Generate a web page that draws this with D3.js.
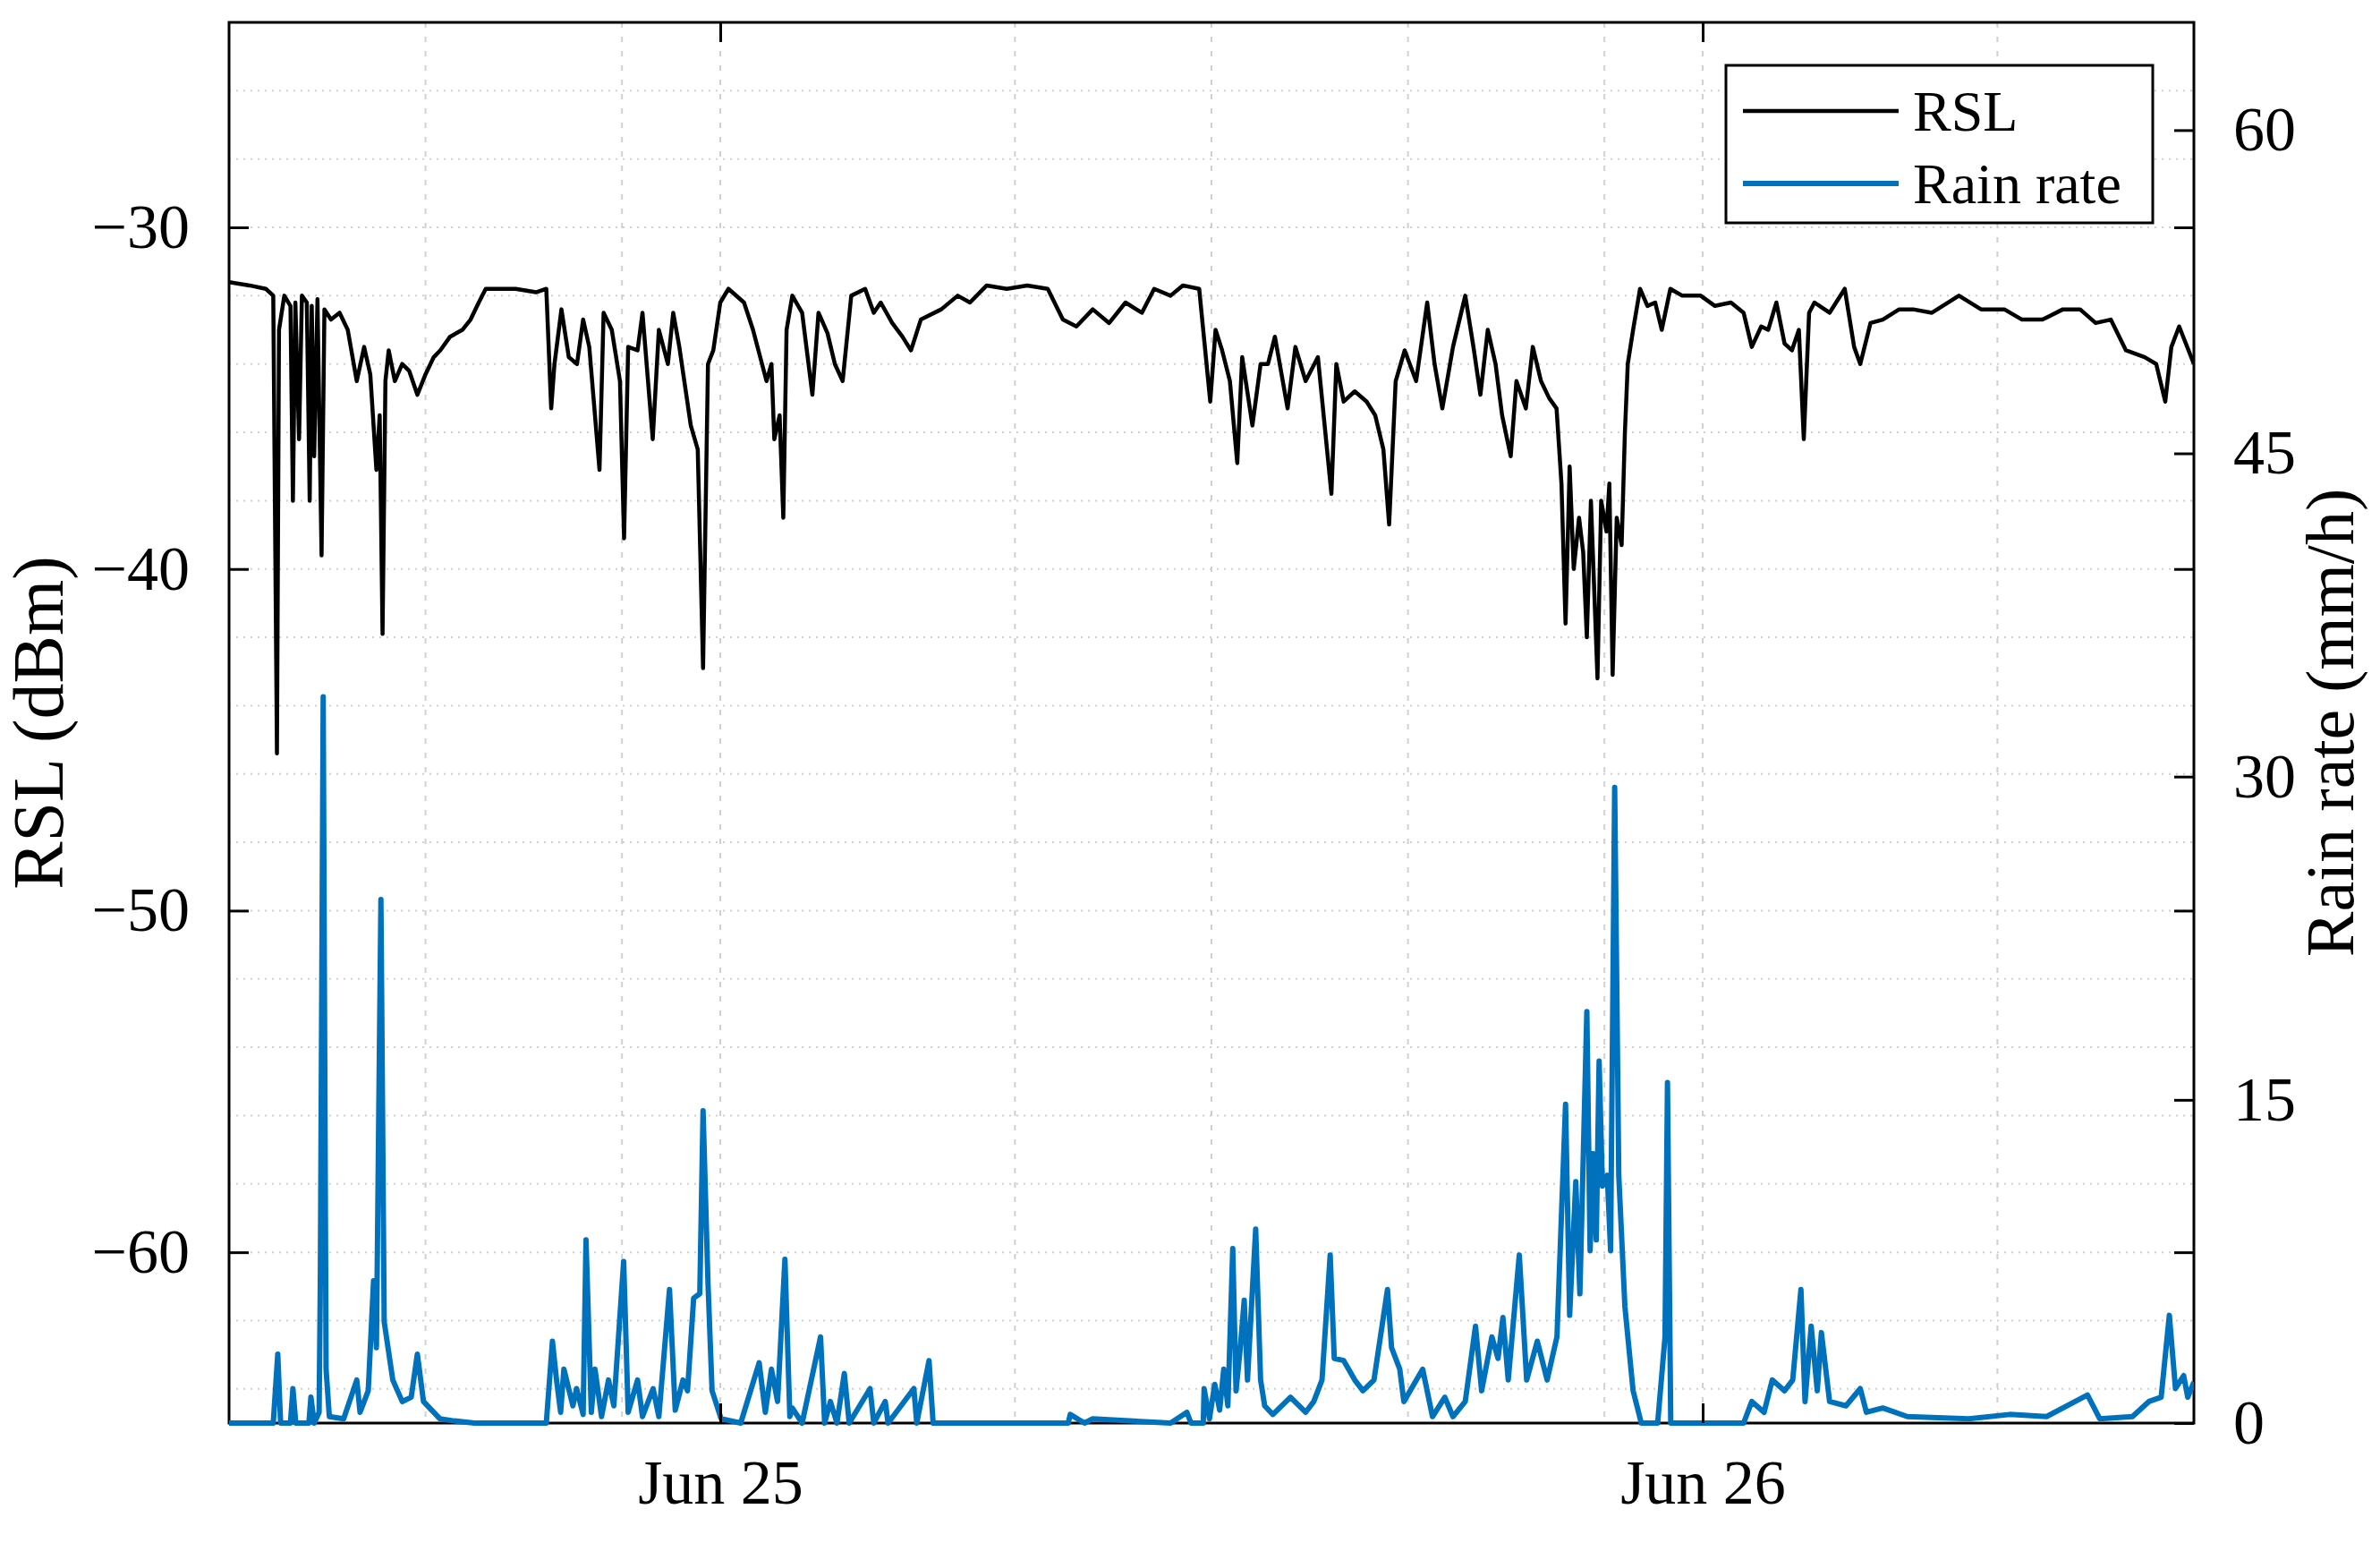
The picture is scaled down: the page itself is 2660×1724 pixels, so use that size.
<!DOCTYPE html>
<html><head><meta charset="utf-8">
<script src="https://cdn.jsdelivr.net/npm/d3@7"></script>
<style>body{margin:0;background:#fff}svg{display:block}text{font-family:"Liberation Serif","Times New Roman",serif;fill:#000}</style>
</head><body><svg id="c" width="2660" height="1724"></svg>
<script>
const startTime = new Date(2018, 5, 24, 12, 0, 0);
const rslHours = [0,0.5,0.9,1.08,1.12,1.17,1.22,1.35,1.5,1.56,1.62,1.71,1.78,1.9,1.97,2.02,2.08,2.16,2.26,2.33,2.49,2.7,2.9,3.12,3.3,3.45,3.6,3.68,3.75,3.82,3.9,4.05,4.23,4.4,4.6,4.8,5.0,5.16,5.4,5.7,5.9,6.1,6.27,7.0,7.5,7.75,7.87,7.95,8.12,8.3,8.5,8.65,8.8,9.05,9.15,9.35,9.55,9.65,9.75,9.98,10.1,10.35,10.5,10.72,10.85,11.0,11.28,11.45,11.58,11.7,11.83,12.0,12.2,12.58,12.8,13.13,13.25,13.32,13.45,13.54,13.62,13.76,14.0,14.25,14.4,14.62,14.8,14.99,15.2,15.54,15.75,15.92,16.2,16.45,16.66,16.9,17.4,17.8,18.1,18.51,19.0,19.5,20.0,20.37,20.7,21.1,21.5,21.9,22.3,22.6,23.0,23.3,23.7,23.97,24.1,24.26,24.45,24.63,24.75,25.0,25.2,25.38,25.55,25.86,26.05,26.3,26.6,26.93,27.05,27.23,27.5,27.79,28.0,28.2,28.34,28.5,28.72,29.0,29.27,29.45,29.64,29.9,30.2,30.4,30.57,30.75,30.94,31.1,31.31,31.45,31.68,31.85,32.05,32.25,32.43,32.55,32.65,32.75,32.85,32.98,33.08,33.17,33.27,33.43,33.52,33.65,33.72,33.8,33.9,34.02,34.1,34.17,34.3,34.47,34.65,34.84,35.0,35.21,35.5,35.95,36.3,36.69,37.0,37.2,37.43,37.6,37.8,38.0,38.18,38.35,38.47,38.6,38.73,39.1,39.47,39.7,39.85,40.1,40.4,40.8,41.14,41.6,42.26,42.8,43.37,43.8,44.3,44.8,45.22,45.6,45.97,46.34,46.8,47.08,47.3,47.45,47.64,48];
const rslValues = [-31.6,-31.7,-31.8,-32.0,-38,-45.4,-33,-32.0,-32.3,-38.0,-32.2,-36.2,-32.0,-32.2,-38.0,-32.3,-36.7,-32.1,-39.6,-32.4,-32.7,-32.5,-33.0,-34.5,-33.5,-34.3,-37.1,-35.5,-41.9,-34.5,-33.6,-34.5,-34.0,-34.2,-34.9,-34.3,-33.8,-33.6,-33.2,-33.0,-32.7,-32.2,-31.8,-31.8,-31.9,-31.8,-35.3,-34.0,-32.4,-33.8,-34.0,-32.7,-33.5,-37.1,-32.5,-33.0,-34.5,-39.1,-33.5,-33.6,-32.5,-36.2,-33.0,-34.0,-32.5,-33.5,-35.8,-36.5,-42.9,-34.0,-33.6,-32.2,-31.8,-32.2,-33.0,-34.5,-34.0,-36.2,-35.5,-38.5,-33.0,-32.0,-32.5,-34.9,-32.5,-33.1,-34.0,-34.5,-32.0,-31.8,-32.5,-32.2,-32.8,-33.2,-33.6,-32.7,-32.4,-32.0,-32.2,-31.7,-31.8,-31.7,-31.8,-32.7,-32.9,-32.4,-32.8,-32.2,-32.5,-31.8,-32.0,-31.7,-31.8,-35.1,-33.0,-33.6,-34.5,-36.9,-33.8,-35.8,-34.0,-34.0,-33.2,-35.3,-33.5,-34.5,-33.8,-37.8,-34.0,-35.1,-34.8,-35.1,-35.5,-36.5,-38.7,-34.5,-33.6,-34.5,-32.2,-34.0,-35.3,-33.5,-32.0,-33.5,-34.9,-33.0,-34.0,-35.5,-36.7,-34.5,-35.3,-33.5,-34.5,-35.0,-35.3,-37.5,-41.6,-37.0,-40.0,-38.5,-39.5,-42.0,-38.0,-43.2,-38.0,-38.9,-37.5,-43.1,-38.5,-39.3,-36.0,-34.0,-33.0,-31.8,-32.3,-32.2,-33.0,-31.8,-32.0,-32.0,-32.3,-32.2,-32.5,-33.5,-32.9,-33.0,-32.2,-33.4,-33.6,-33.0,-36.2,-32.5,-32.2,-32.5,-31.8,-33.5,-34.0,-32.8,-32.7,-32.4,-32.4,-32.5,-32.0,-32.4,-32.4,-32.7,-32.7,-32.4,-32.4,-32.8,-32.7,-33.6,-33.8,-34.0,-35.1,-33.5,-32.9,-34.0];
const rainHours = [0,1.08,1.19,1.26,1.5,1.56,1.63,1.95,2.0,2.08,2.2,2.23,2.3,2.37,2.45,2.8,3.12,3.2,3.4,3.53,3.6,3.71,3.79,4.0,4.23,4.45,4.6,4.75,4.9,5.15,5.5,6.0,7.75,7.9,8.0,8.1,8.18,8.4,8.49,8.65,8.72,8.85,8.94,9.1,9.27,9.4,9.64,9.75,9.98,10.1,10.36,10.5,10.76,10.9,11.09,11.2,11.35,11.5,11.58,11.7,11.8,12.02,12.5,12.95,13.1,13.25,13.4,13.58,13.7,13.76,14.0,14.45,14.55,14.69,14.85,15.03,15.15,15.66,15.75,16.03,16.1,16.73,16.8,17.1,17.2,20.5,20.55,20.9,21.1,23.0,23.4,23.5,23.8,23.82,23.95,24.08,24.2,24.3,24.4,24.52,24.6,24.7,24.8,24.88,25.08,25.2,25.3,25.5,25.93,26.3,26.5,26.7,26.9,27.0,27.23,27.5,27.7,27.97,28.3,28.4,28.6,28.7,29.16,29.4,29.7,29.9,30.2,30.45,30.6,30.85,31.0,31.12,31.25,31.52,31.7,31.96,32.2,32.44,32.65,32.75,32.9,33.0,33.17,33.25,33.32,33.4,33.47,33.55,33.67,33.75,33.85,33.95,34.1,34.3,34.5,34.9,35.08,35.14,35.22,37.0,37.2,37.5,37.7,38.0,38.2,38.4,38.5,38.65,38.8,38.9,39.1,39.5,39.85,40.0,40.4,41.0,42.5,43.5,44.4,45.4,45.7,46.5,46.9,47.2,47.4,47.55,47.75,47.85,48];
const rainValues = [0,0,3.2,0,0,1.6,0,0,1.2,0,0.5,6.6,33.7,2.5,0.3,0.2,2.0,0.5,1.5,6.6,3.5,24.3,4.7,2.0,1.0,1.2,3.2,1.0,0.7,0.2,0.1,0,0,3.8,2.0,0.5,2.5,0.8,1.6,0.4,8.5,0.5,2.5,0.3,2.0,0.8,7.5,0.5,2.0,0.3,1.6,0.3,6.2,0.6,2.0,1.5,5.8,6.0,14.5,6.5,1.5,0.2,0,2.8,0.5,2.5,1.0,7.6,0.3,0.7,0,4.0,0,1.0,0,2.3,0,1.6,0,1.0,0,1.6,0,2.9,0,0,0.4,0,0.2,0,0.5,0,0,1.6,0.2,1.8,0.6,2.5,0.8,8.1,1.5,3.4,5.7,2.0,9.0,2.0,0.8,0.4,1.2,0.5,1.0,2.0,7.8,3.0,2.9,2.0,1.5,2.0,6.2,3.5,2.5,1.0,2.5,0.3,1.2,0.3,1.0,4.5,1.5,4.0,3.0,4.9,2.0,7.8,2.0,3.8,2.0,4.0,14.8,5.0,11.2,6.0,19.1,8.0,12.5,8.5,16.8,11.0,11.5,8.0,29.5,11.5,5.4,1.5,0,0,4.0,15.8,0,0,1.0,0.5,2.0,1.5,2.0,6.2,1.0,4.5,1.5,4.2,1.0,0.8,1.6,0.5,0.7,0.3,0.2,0.4,0.3,1.3,0.2,0.3,1.0,1.2,5.0,1.6,2.2,1.2,1.9];
const rslTicks = [-30,-40,-50,-60];
const rainTicks = [0,15,30,45,60];
const dateTickHours = [12,36];
const dateTickLabels = ["Jun 25","Jun 26"];
const minorGridHours = [4.8,9.6,19.2,24,28.8,33.6,43.2];

const L=256,R=2452,T=25,B=1590;
const svg=d3.select("#c");
const toDate=h=>new Date(startTime.getTime()+h*3600e3);
const x=d3.scaleTime().domain([toDate(0),toDate(48)]).range([L,R]);
const y=d3.scaleLinear().domain([-65,-24]).range([B,T]);
const y2=d3.scaleLinear().domain([0,65]).range([B,T]);

const g=svg.append("g");
d3.range(-64,-24,2).forEach(v=>{
  g.append("line").attr("x1",L).attr("x2",R).attr("y1",y(v)).attr("y2",y(v))
   .attr("stroke","#d0d0d0").attr("stroke-width",2).attr("stroke-dasharray","2,6");
});
minorGridHours.concat(dateTickHours).forEach(h=>{
  g.append("line").attr("x1",x(toDate(h))).attr("x2",x(toDate(h))).attr("y1",T).attr("y2",B)
   .attr("stroke","#d0d0d0").attr("stroke-width",2).attr("stroke-dasharray","6,10");
});

svg.append("clipPath").attr("id","cp").append("rect").attr("x",L).attr("y",T).attr("width",R-L).attr("height",B-T+6);
// frame
svg.append("rect").attr("x",L).attr("y",T).attr("width",R-L).attr("height",B-T).attr("fill","none").attr("stroke","#000").attr("stroke-width",3);

const rainLine=d3.line().x((d,i)=>x(toDate(rainHours[i]))).y((d,i)=>y2(rainValues[i]));
svg.append("path").attr("clip-path","url(#cp)").attr("d",rainLine(rainHours)).attr("fill","none").attr("stroke","#0072BD").attr("stroke-width",6).attr("stroke-linejoin","round");
const rslLine=d3.line().x((d,i)=>x(toDate(rslHours[i]))).y((d,i)=>y(rslValues[i]));
svg.append("path").attr("clip-path","url(#cp)").attr("d",rslLine(rslHours)).attr("fill","none").attr("stroke","#000").attr("stroke-width",4.5).attr("stroke-linejoin","round");

const fmt=v=>String(v).replace("-","\u2212");
const la=svg.append("g").attr("transform",`translate(${L},0)`).call(d3.axisLeft(y).tickValues(rslTicks).tickSize(-22).tickPadding(44).tickFormat(fmt));
const ra=svg.append("g").attr("transform",`translate(${R},0)`).call(d3.axisRight(y2).tickValues(rainTicks).tickSize(-22).tickPadding(44));
const lar=svg.append("g").attr("transform",`translate(${R},0)`).call(d3.axisRight(y).tickValues(rslTicks).tickSize(-22).tickFormat(""));
const ba=svg.append("g").attr("transform",`translate(0,${B})`).call(d3.axisBottom(x).tickValues(dateTickHours.map(toDate)).tickSize(-22).tickPadding(40).tickFormat((d,i)=>dateTickLabels[i]));
const ta=svg.append("g").attr("transform",`translate(0,${T})`).call(d3.axisTop(x).tickValues(dateTickHours.map(toDate)).tickSize(-22).tickFormat(""));
[la,ra,lar,ba,ta].forEach(a=>{a.select(".domain").remove();a.selectAll("line").attr("stroke","#000").attr("stroke-width",3);
  a.selectAll("text").style("font-family","Liberation Serif").style("font-size","70px").attr("fill","#000");});

svg.append("text").attr("transform",`translate(70,${(T+B)/2}) rotate(-90)`).attr("text-anchor","middle").style("font-size","80px").text("RSL (dBm)");
svg.append("text").attr("transform",`translate(2630,${(T+B)/2}) rotate(-90)`).attr("text-anchor","middle").style("font-size","76px").text("Rain rate (mm/h)");

const lg=svg.append("g");
lg.append("rect").attr("x",1929).attr("y",73).attr("width",477).attr("height",176).attr("fill","#fff").attr("stroke","#000").attr("stroke-width",3);
[["RSL","#000",4.5,124],["Rain rate","#0072BD",6,205]].forEach(([t,c,w,yy])=>{
  lg.append("line").attr("x1",1948).attr("x2",2122).attr("y1",yy).attr("y2",yy).attr("stroke",c).attr("stroke-width",w);
  lg.append("text").attr("x",2138).attr("y",yy+22).style("font-size","64px").text(t);
});
</script></body></html>
